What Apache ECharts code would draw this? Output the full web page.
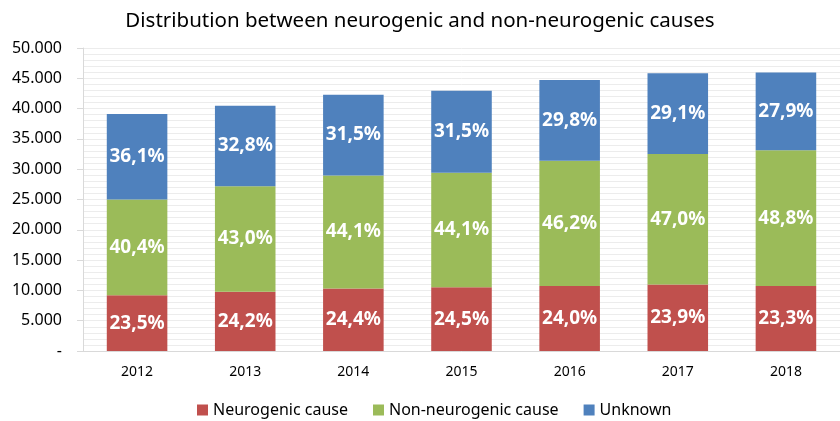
<!DOCTYPE html>
<html><head><meta charset="utf-8">
<script src="https://cdn.jsdelivr.net/npm/echarts@6/dist/echarts.min.js"></script>
<style>html,body{margin:0;padding:0;background:#fff}#c{width:840px;height:421px}</style>
</head><body><div id="c"></div>
<script>
const years = ['2012','2013','2014','2015','2016','2017','2018'];
const neurogenic = [9190, 9790, 10320, 10510, 10730, 10960, 10710];
const nonNeurogenic = [15800, 17390, 18650, 18920, 20650, 21550, 22420];
const unknown = [14110, 13270, 13330, 13510, 13320, 13340, 12820];
const neurogenicPct = ['23,5%','24,2%','24,4%','24,5%','24,0%','23,9%','23,3%'];
const nonNeurogenicPct = ['40,4%','43,0%','44,1%','44,1%','46,2%','47,0%','48,8%'];
const unknownPct = ['36,1%','32,8%','31,5%','31,5%','29,8%','29,1%','27,9%'];
const yTicks = [0,5000,10000,15000,20000,25000,30000,35000,40000,45000,50000];

const FONT = "'Noto Sans', sans-serif";
function fmt(v){ if(v===0) return '-'; return String(v).replace(/\B(?=(\d{3})+(?!\d))/g,'.'); }
function ser(name, data, pct, color){
  return {
    name, type:'bar', stack:'t', data, barWidth:'56%',
    itemStyle:{color},
    label:{show:true, position:'inside', color:'#fff', fontFamily:FONT, fontWeight:'bold', fontSize:19,
      formatter:p=>pct[p.dataIndex]},
    emphasis:{disabled:true}
  };
}
const chart = echarts.init(document.getElementById('c'), null, {renderer:'canvas'});
chart.setOption({
  animation:false,
  backgroundColor:'#fff',
  title:{text:'Distribution between neurogenic and non-neurogenic causes', left:'center', top:6,
    textStyle:{fontFamily:FONT, fontWeight:'normal', fontSize:20.5, color:'#000'}},
  legend:{top:397, left:192, itemWidth:11, itemHeight:11, itemGap:25,
    icon:'rect', textStyle:{fontFamily:FONT, fontSize:16, color:'#000'},
    data:['Neurogenic cause','Non-neurogenic cause','Unknown']},
  grid:{left:83, top:48, width:760, height:303, containLabel:false},
  xAxis:{type:'category', data:years,
    axisLine:{lineStyle:{color:'#d9d9d9'}}, axisTick:{show:false},
    axisLabel:{fontFamily:FONT, fontSize:14, color:'#000', margin:14}},
  yAxis:{type:'value', min:yTicks[0], max:yTicks[yTicks.length-1], interval:5000,
    axisLine:{show:true, lineStyle:{color:'#d9d9d9'}},
    axisTick:{show:true, length:6, lineStyle:{color:'#d9d9d9'}},
    axisLabel:{fontFamily:FONT, fontSize:16, color:'#000', margin:21, formatter:fmt},
    splitLine:{lineStyle:{color:'#ececec'}},
    minorTick:{show:false, splitNumber:5},
    minorSplitLine:{show:true, lineStyle:{color:'#ececec'}}},
  series:[
    ser('Neurogenic cause', neurogenic, neurogenicPct, '#C0504D'),
    ser('Non-neurogenic cause', nonNeurogenic, nonNeurogenicPct, '#9BBB59'),
    ser('Unknown', unknown, unknownPct, '#4F81BD')
  ]
});
</script></body></html>
